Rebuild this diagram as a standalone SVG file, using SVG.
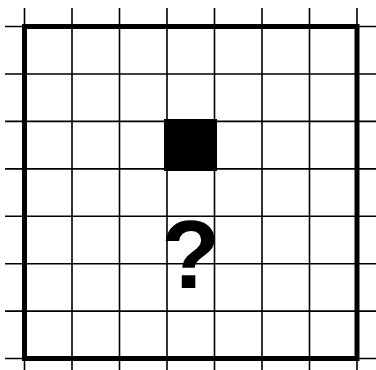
<svg xmlns="http://www.w3.org/2000/svg" width="376" height="370" viewBox="0 0 376 370">
<style>
.g{stroke:#000;stroke-width:1.6;fill:none}
.b{stroke:#000;stroke-width:5;fill:none}
.q{font-family:"Liberation Sans",Arial,sans-serif;font-weight:bold;font-size:96px;fill:#000}
</style>
<rect width="376" height="370" fill="#fff"/>
<g id="grid">
<path class="g" d="M24.5 8V370M72 8V370M119.5 8V370M167 8V370M214.5 8V370M262 8V370M309.5 8V370M357 8V370"/>
<path class="g" d="M5 26.5H376M5 74H376M5 121.4H376M5 168.9H376M5 216.3H376M5 263.7H376M5 311.1H376M5 358.5H376"/>
</g>
<rect id="border" class="b" x="24.5" y="26.5" width="332.5" height="332"/>
<rect id="filled" x="164" y="119" width="53" height="52" fill="#000"/>
<text id="question" class="q" x="190.5" y="288" text-anchor="middle">?</text>
</svg>
